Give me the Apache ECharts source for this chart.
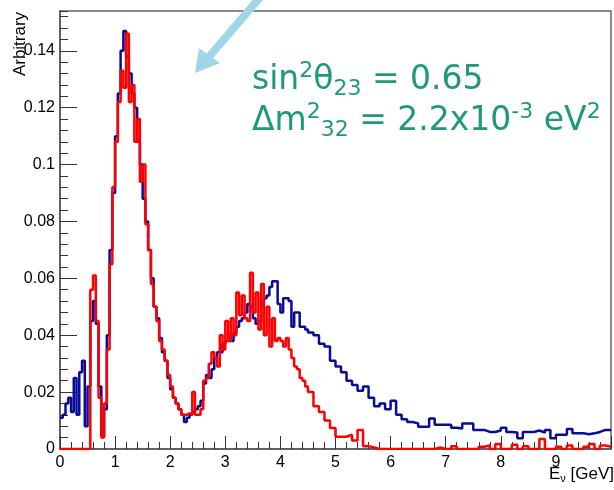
<!DOCTYPE html>
<html>
<head>
<meta charset="utf-8">
<script src="https://cdn.jsdelivr.net/npm/echarts@6/dist/echarts.min.js"></script>
<style>
  html, body { margin: 0; padding: 0; background: #fff; }
  #chart { width: 614px; height: 490px; }
</style>
</head>
<body>
<div id="chart"></div>
<script>
// Histogram binning: fine bins below 4.5 GeV, coarse bins above
const FINE_START = 0, FINE_W = 0.05;
const COARSE_START = 4.5, COARSE_W = 0.1;
const X_MAX = 10;

// blue histogram, 0.05 GeV bins from 0 to 4.5
const blueFine = [
  0.011, 0.012, 0.016, 0.018, 0.013, 0.025, 0.012, 0.027, 0.031, 0.008,
  0.022, 0.045, 0.052, 0.044, 0.022, 0.005, 0.014, 0.040, 0.070, 0.090,
  0.110, 0.125, 0.140, 0.147, 0.138, 0.132, 0.125, 0.120, 0.108, 0.100,
  0.088, 0.080, 0.070, 0.060, 0.050, 0.046, 0.039, 0.034, 0.031, 0.025,
  0.021, 0.018, 0.016, 0.014, 0.012, 0.0095, 0.011, 0.012, 0.013, 0.014,
  0.015, 0.017, 0.023, 0.026, 0.025, 0.028, 0.032, 0.034, 0.034, 0.037,
  0.038, 0.040, 0.038, 0.041, 0.043, 0.045, 0.046, 0.048, 0.051, 0.050,
  0.046, 0.044, 0.045, 0.051, 0.053, 0.054, 0.057, 0.059, 0.059, 0.051,
  0.048, 0.053, 0.053, 0.052, 0.043, 0.048, 0.048, 0.043, 0.043, 0.042
];
// blue histogram, 0.1 GeV bins from 4.5 to 10
const blueCoarse = [
  0.041, 0.040, 0.037, 0.036, 0.031,
  0.029, 0.027, 0.024, 0.0225, 0.0205, 0.022, 0.018, 0.015, 0.016, 0.014,
  0.017, 0.012, 0.0105, 0.0095, 0.009, 0.0078, 0.0078, 0.0107, 0.0085, 0.0085,
  0.0085, 0.0075, 0.0072, 0.009, 0.009, 0.0067, 0.0067, 0.006, 0.006, 0.0065,
  0.0075, 0.006, 0.0058, 0.0038, 0.006, 0.006, 0.0065, 0.0058, 0.0067, 0.0038,
  0.005, 0.005, 0.007, 0.0055, 0.0055, 0.0052, 0.0055, 0.006, 0.0067, 0.0067
];

// red histogram, same binning
const redFine = [
  0, 0, 0, 0, 0, 0, 0, 0, 0, 0,
  0, 0.056, 0.061, 0.045, 0.018, 0.004, 0.016, 0.035, 0.065, 0.092,
  0.108, 0.122, 0.133, 0.127, 0.146, 0.122, 0.128, 0.108, 0.116, 0.094,
  0.100, 0.079, 0.070, 0.058, 0.050, 0.045, 0.038, 0.035, 0.031, 0.026,
  0.022, 0.018, 0.016, 0.014, 0.012, 0.012, 0.0125, 0.012, 0.020, 0.012,
  0.012, 0.014, 0.024, 0.025, 0.030, 0.034, 0.032, 0.029, 0.040, 0.035,
  0.045, 0.038, 0.046, 0.040, 0.055, 0.047, 0.054, 0.046, 0.045, 0.062,
  0.048, 0.055, 0.042, 0.058, 0.040, 0.050, 0.036, 0.046, 0.038, 0.039,
  0.038, 0.036, 0.039, 0.035, 0.032, 0.029, 0.028, 0.025, 0.024, 0.022
];
const redCoarse = [
  0.020, 0.015, 0.013, 0.010, 0.0074,
  0.0043, 0.0043, 0.005, 0.003, 0.0067, 0.001, 0.0005, 0, 0, 0,
  0, 0, 0, 0, 0, 0, 0, 0, 0.0005, 0,
  0, 0.001, 0, 0, 0, 0, 0.0008, 0.0012, 0, 0.0018,
  0, 0, 0.0015, 0, 0.001, 0, 0, 0.0035, 0, 0,
  0.0008, 0, 0.0012, 0, 0, 0.0008, 0.0018, 0, 0.0012, 0.0008
];

const xTicks = ['0', '1', '2', '3', '4', '5', '6', '7', '8', '9'];

// turn bin contents into [lowEdge, value] points for a step line
function histPoints(fine, coarse) {
  const pts = [];
  fine.forEach((v, i) => pts.push([+(FINE_START + i * FINE_W).toFixed(3), v]));
  coarse.forEach((v, i) => pts.push([+(COARSE_START + i * COARSE_W).toFixed(3), v]));
  pts.push([X_MAX, coarse[coarse.length - 1]]);
  return pts;
}

const FONT = 'Liberation Sans';
const GREEN = '#1f9a78';
const Y_MAX = 0.154;

const chart = echarts.init(document.getElementById('chart'), null, { renderer: 'canvas' });

// rich styles for the green oscillation-parameter labels
const greenRich = {
  m: { fontFamily: 'DejaVu Sans', fontSize: 33, lineHeight: 40, fill: GREEN, verticalAlign: 'middle' },
  p: { fontFamily: 'DejaVu Sans', fontSize: 22, lineHeight: 20, fill: GREEN, verticalAlign: 'top' },
  b: { fontFamily: 'DejaVu Sans', fontSize: 22, lineHeight: 20, fill: GREEN, verticalAlign: 'bottom' }
};

const option = {
  animation: false,
  backgroundColor: '#fff',
  grid: {
    left: 60, top: 11, width: 556, height: 438,
    show: true, borderColor: '#666', borderWidth: 1.5, backgroundColor: '#fff'
  },
  xAxis: {
    type: 'value', min: 0, max: X_MAX, interval: 1,
    axisLine: { show: true, onZero: false, lineStyle: { color: '#555', width: 1.5 } },
    axisTick: { show: true, inside: true, length: 13, lineStyle: { color: '#333' } },
    minorTick: { show: true, splitNumber: 5, length: 7, lineStyle: { color: '#333' } },
    splitLine: { show: false },
    axisLabel: {
      margin: 6, color: '#000', fontFamily: FONT, fontSize: 16,
      formatter: v => (v < xTicks.length ? xTicks[v] : '')
    }
  },
  yAxis: [
    {
      type: 'value', min: 0, max: Y_MAX, interval: 0.02, position: 'left',
      axisLine: { show: true, lineStyle: { color: '#555', width: 1.5 } },
      axisTick: { show: true, inside: true, length: 17, lineStyle: { color: '#333' } },
      splitLine: { show: false },
      axisLabel: { margin: 5, color: '#000', fontFamily: FONT, fontSize: 16, showMaxLabel: false }
    },
    {
      // minor ticks every 0.004
      type: 'value', min: 0, max: Y_MAX, interval: 0.004, position: 'left',
      axisLine: { show: false },
      axisTick: { show: true, inside: true, length: 8, lineStyle: { color: '#333' } },
      splitLine: { show: false },
      axisLabel: { show: false }
    }
  ],
  series: [
    {
      name: 'blue', type: 'line', step: 'end', yAxisIndex: 0,
      data: histPoints(blueFine, blueCoarse),
      symbol: 'none', lineStyle: { color: '#0a0a99', width: 2.5 }, z: 3
    },
    {
      name: 'red', type: 'line', step: 'end', yAxisIndex: 0,
      data: histPoints(redFine, redCoarse),
      symbol: 'none', lineStyle: { color: '#ff0000', width: 2.5 }, z: 4
    }
  ],
  graphic: [
    {
      type: 'text', x: 20, y: 44, rotation: Math.PI / 2, z: 10,
      style: { text: 'Arbitrary', font: '17px "Liberation Sans"', fill: '#000', align: 'center', verticalAlign: 'middle' }
    },
    {
      type: 'text', x: 614, y: 484, z: 10,
      style: {
        text: '{a|E}{s|ν}{a| [GeV]}', align: 'right', verticalAlign: 'bottom',
        rich: {
          a: { fontFamily: FONT, fontSize: 17, lineHeight: 20, fill: '#000' },
          s: { fontFamily: FONT, fontSize: 11, lineHeight: 12, verticalAlign: 'bottom', fill: '#000' }
        }
      }
    },
    {
      type: 'text', x: 252, y: 60, z: 10,
      style: { text: '{m|sin}{p|2}{m|θ}{b|23}{m| = 0.65}', align: 'left', verticalAlign: 'top', rich: greenRich }
    },
    {
      type: 'text', x: 252, y: 101, z: 10,
      style: { text: '{m|Δm}{p|2}{b|32}{m| = 2.2x10}{p|-3}{m| eV}{p|2}', align: 'left', verticalAlign: 'top', rich: greenRich }
    },
    // light blue arrow coming from above
    {
      type: 'line', z: 11,
      shape: { x1: 263, y1: -6, x2: 208, y2: 58 },
      style: { stroke: '#9fd6e8', lineWidth: 8 }
    },
    {
      type: 'polygon', z: 11,
      shape: { points: [[195, 73], [199, 48], [220, 63]] },
      style: { fill: '#9fd6e8' }
    }
  ]
};

chart.setOption(option);
</script>
</body>
</html>
